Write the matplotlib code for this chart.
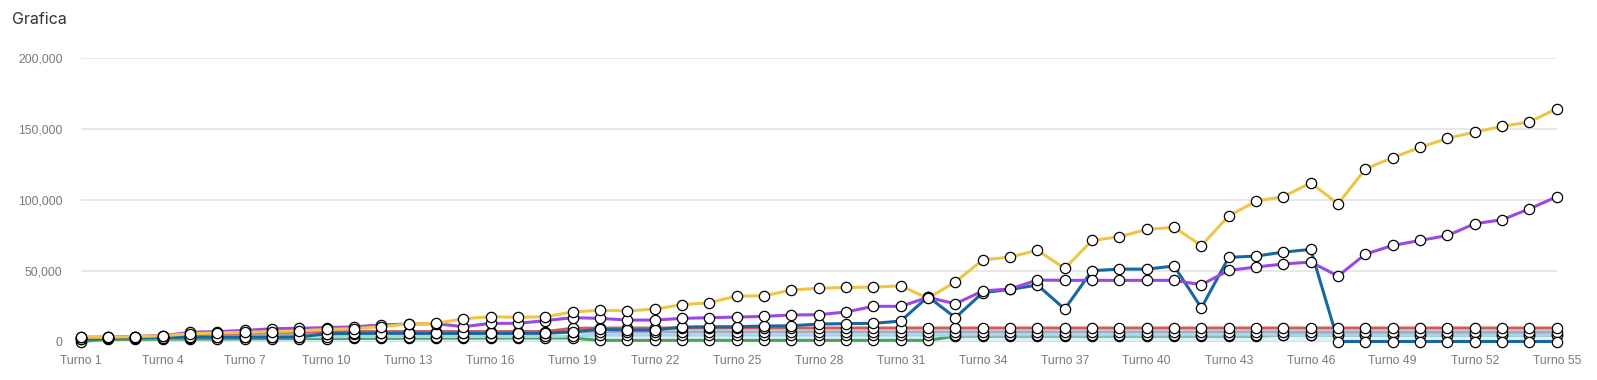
import matplotlib
matplotlib.use("Agg")
import matplotlib.pyplot as plt
from matplotlib.ticker import FuncFormatter

turns = list(range(1, 56))
labels = [f"Turno {t}" for t in turns]

yellow = [3000, 3000, 3500, 4000, 5500, 6000, 6500, 7000, 7500, 8500,
          9000, 10500, 12300, 12800, 16000, 17500, 17000, 17500, 20800, 22000,
          21600, 22800, 25900, 27400, 32000, 32200, 36300, 37500, 38100, 38300,
          39200, 30500, 42000, 57500, 59500, 64300, 51500, 71200, 73800, 79000,
          80500, 67600, 88500, 98900, 102100, 111800, 97000, 121600, 129600, 136800,
          143200, 147600, 151600, 154700, 164100]
purple = [3000, 3000, 3500, 4000, 6500, 7000, 7800, 9000, 9300, 9800,
          10300, 11700, 12300, 12600, 10400, 12800, 12800, 14700, 16800, 16300,
          15100, 15100, 16300, 16800, 17200, 17700, 18700, 18900, 20800, 24800,
          24800, 31100, 26600, 35600, 37000, 43300, 43100, 43100, 43100, 43100,
          43100, 40000, 50100, 52500, 54600, 56000, 46100, 61600, 67700, 71200,
          74700, 83000, 85800, 93500, 102000]
blue = [1500, 2200, 2500, 2800, 3000, 3000, 3000, 3000, 3200, 5500,
        5700, 5800, 5700, 5700, 5700, 5700, 5700, 5800, 6900, 8600,
        8100, 8100, 10200, 10400, 10400, 10900, 11100, 12300, 12600, 12800,
        14400, 31600, 16800, 34400, 36700, 39800, 22900, 49900, 51000, 51000,
        53200, 23700, 59300, 60200, 63000, 64900, 0, 0, 0, 0,
        0, 0, 0, 0, 0]
red = [2800, 3000, 3500, 4000, 5000, 5500, 6000, 6500, 6800, 7000,
       7000, 7000, 7000, 7000, 7000, 7000, 7000, 7000, 9300, 9500] + [9500] * 35
gray = [2500, 2500, 3000, 3200, 4000, 4200, 4500, 5000, 5200, 5500,
        5500, 6000, 6000, 6000, 6000, 6000, 6000, 6000, 6500, 6800] + [6800] * 35
lightblue = [2000, 2200, 2500, 2600, 2800, 3000, 3000, 3200, 3300, 3400,
             3500, 3500, 3500, 3500, 3500, 3500, 3500, 3600, 3800, 4500] + [4500] * 35
green = [0, 1500, 1500, 1600, 1700, 1800, 1900, 2000, 2000, 2100,
         2200, 2200, 2300, 2300, 2400, 2400, 2500, 2500, 2500, 800,
         800, 800, 800, 800, 800, 800, 800, 800, 800, 800,
         800, 800, 3800, 3800, 3800, 3800, 3800, 3800, 3800, 3800,
         3800, 3800, 3800, 3800, 4600, 4600, 4600, 4600, 4600, 4600,
         4600, 4600, 4600, 4600, 4600]

series = [
    (yellow, "#eec547"),
    (purple, "#9a48e6"),
    (blue, "#18679f"),
    (red, "#d35b5b"),
    (gray, "#a7aab8"),
    (lightblue, "#a9d3ef"),
    (green, "#4aa653"),
]

plt.rcParams["font.family"] = ["Liberation Sans", "DejaVu Sans"]

fig = plt.figure(figsize=(15.97, 3.80), dpi=100, facecolor="white")
ax = fig.add_axes([0.0505, 0.1013, 0.9243, 0.7469])

# soft fill under the light blue series
ax.fill_between(turns, lightblue, 0, color="#a9d3ef", alpha=0.35, lw=0, zorder=1)

for vals, col in reversed(series):
    ax.plot(turns, vals, color=col, lw=2.2, zorder=2, clip_on=False,
            solid_joinstyle="round")
for vals, col in reversed(series):
    ax.plot(turns, vals, ls="none", marker="o", ms=7.4, mfc="white",
            mec="black", mew=0.9, zorder=3, clip_on=False)

ax.set_xlim(1, 55)
ax.set_ylim(0, 200000)
ax.set_yticks([0, 50000, 100000, 150000, 200000])
ax.yaxis.set_major_formatter(FuncFormatter(lambda v, p: f"{int(v):,}"))
ax.set_xticks(turns[::3])
ax.set_xticklabels(labels[::3])
ax.grid(True, axis="y", color="#e6e6e6", lw=1.3, zorder=0)
ax.set_axisbelow(True)
for s in ax.spines.values():
    s.set_visible(False)
ax.tick_params(axis="both", length=0, labelsize=8.8, colors="#7a7a7a")
ax.tick_params(axis="y", pad=13)
ax.tick_params(axis="x", pad=10)

fig.text(0.0075, 0.948, "Grafica", fontsize=11.5, color="#333333",
         family=["Inter", "DejaVu Sans"], va="center", ha="left")

fig.savefig("out.png", dpi=100, facecolor="white")
